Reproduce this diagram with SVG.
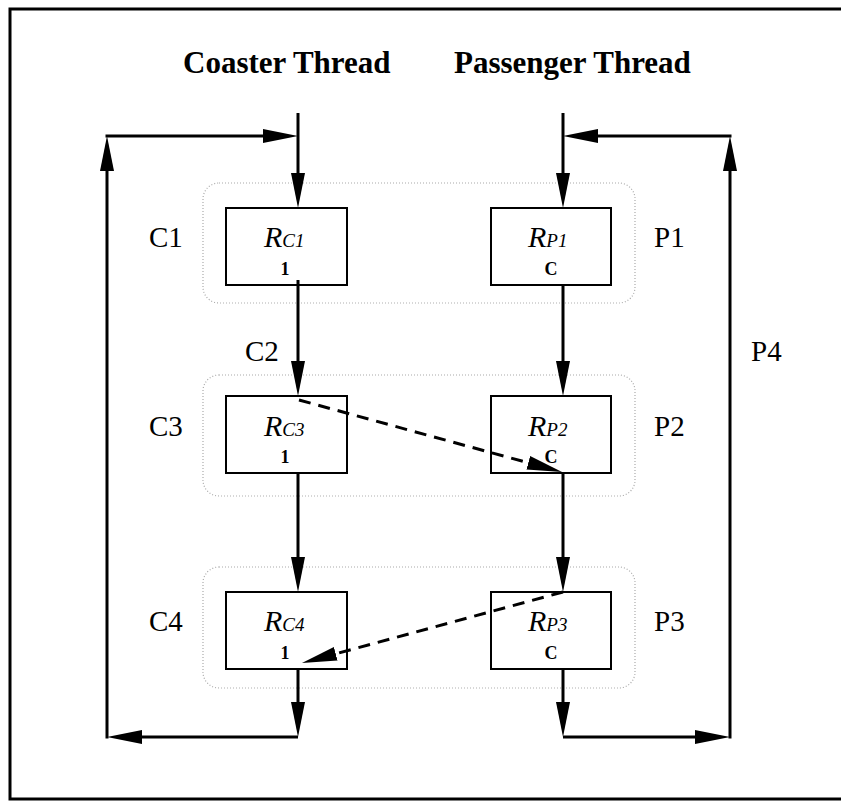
<svg xmlns="http://www.w3.org/2000/svg" width="841" height="801" viewBox="0 0 841 801">
<defs>
<marker id="ah" viewBox="0 0 35 14" markerWidth="35" markerHeight="14" refX="25" refY="7" orient="auto" markerUnits="userSpaceOnUse">
<path d="M0,0 L35,7 L0,14 z" fill="#000"/>
</marker>
<style>
.frame{fill:none;stroke:#000;stroke-width:3}
.grp{fill:none;stroke:#aaa;stroke-width:1.2;stroke-dasharray:1 2}
.box{fill:#fff;stroke:#000;stroke-width:2}
.ln{fill:none;stroke:#000;stroke-width:3;marker-end:url(#ah)}
.dash{fill:none;stroke:#000;stroke-width:3;stroke-dasharray:12 8;marker-end:url(#ah)}
.title{font-family:"Liberation Serif","Times New Roman",serif;font-weight:bold;font-size:31px;fill:#000}
.lbl{font-family:"Liberation Serif","Times New Roman",serif;font-size:29px;fill:#000}
.r{font-family:"Liberation Serif","Times New Roman",serif;font-style:italic;font-size:30px;fill:#000}
.sub{font-size:19px}
.b{font-family:"Liberation Serif","Times New Roman",serif;font-weight:bold;font-size:18px;fill:#000;text-anchor:middle}
</style>
</defs>
<rect x="0" y="0" width="841" height="801" fill="#fff"/>
<rect class="frame" x="10" y="9" width="840" height="790"/>

<g id="titles">
<text class="title" x="183" y="73">Coaster Thread</text>
<text class="title" x="454" y="73">Passenger Thread</text>
</g>

<g id="groups">
<rect class="grp" x="203" y="183" width="432" height="120" rx="16"/>
<rect class="grp" x="203" y="375" width="432" height="121" rx="16"/>
<rect class="grp" x="203" y="567" width="432" height="121" rx="16"/>
</g>

<g id="C1">
<rect class="box" x="226" y="208" width="121" height="77"/>
<text class="r" x="264" y="247">R<tspan class="sub">C1</tspan></text>
<text class="b" x="285" y="275">1</text>
</g>
<g id="C3">
<rect class="box" x="226" y="396" width="121" height="77"/>
<text class="r" x="264" y="436">R<tspan class="sub">C3</tspan></text>
<text class="b" x="285" y="463">1</text>
</g>
<g id="C4">
<rect class="box" x="226" y="592" width="121" height="77"/>
<text class="r" x="264" y="631">R<tspan class="sub">C4</tspan></text>
<text class="b" x="285" y="659">1</text>
</g>
<g id="P1">
<rect class="box" x="491" y="208" width="120" height="77"/>
<text class="r" x="528" y="247">R<tspan class="sub">P1</tspan></text>
<text class="b" x="551" y="275">C</text>
</g>
<g id="P2">
<rect class="box" x="491" y="396" width="120" height="77"/>
<text class="r" x="528" y="436">R<tspan class="sub">P2</tspan></text>
<text class="b" x="551" y="463">C</text>
</g>
<g id="P3">
<rect class="box" x="491" y="592" width="120" height="77"/>
<text class="r" x="528" y="631">R<tspan class="sub">P3</tspan></text>
<text class="b" x="551" y="659">C</text>
</g>

<g id="connectors">
<path class="ln" d="M298,113 V198"/>
<path class="ln" d="M298,280 V386"/>
<path class="ln" d="M298,473 V582"/>
<path class="ln" d="M298,669 V727"/>
<path class="ln" d="M298,737 H117"/>
<path class="ln" d="M107,738.5 V146"/>
<path class="ln" d="M105.5,136 H288"/>
<path class="ln" d="M563,113 V198"/>
<path class="ln" d="M731.5,136 H573"/>
<path class="ln" d="M730,738.5 V146"/>
<path class="ln" d="M563,285 V386"/>
<path class="ln" d="M563,473 V582"/>
<path class="ln" d="M563,669 V727"/>
<path class="ln" d="M563,737 H720"/>
<path class="dash" d="M299,400 L552.4,469.4"/>
<path class="dash" d="M563,592 L311.6,660.4"/>
</g>

<g id="labels">
<text class="lbl" x="149" y="247">C1</text>
<text class="lbl" x="245" y="361">C2</text>
<text class="lbl" x="149" y="436">C3</text>
<text class="lbl" x="149" y="631">C4</text>
<text class="lbl" x="654" y="247">P1</text>
<text class="lbl" x="654" y="436">P2</text>
<text class="lbl" x="654" y="631">P3</text>
<text class="lbl" x="751" y="361">P4</text>
</g>
</svg>
